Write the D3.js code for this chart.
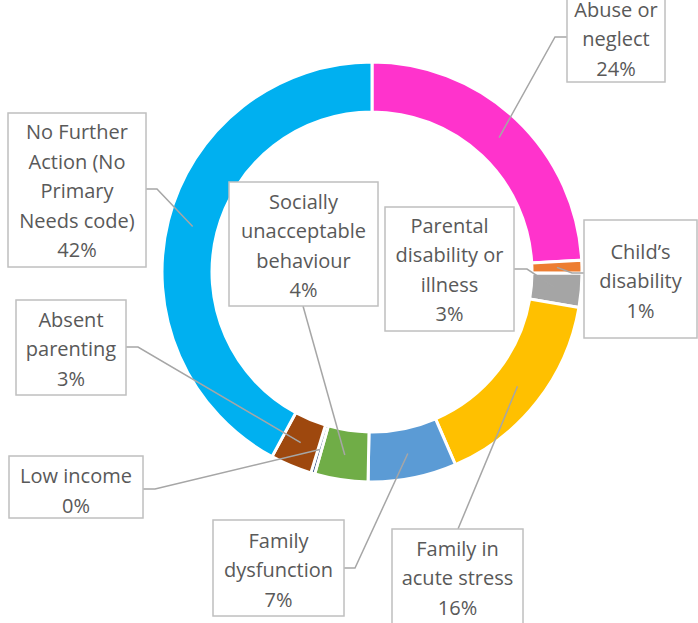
<!DOCTYPE html>
<html>
<head>
<meta charset="utf-8">
<script src="https://cdn.jsdelivr.net/npm/d3@7"></script>
<style>
  html, body { margin: 0; padding: 0; background: #fff; }
  svg { display: block; }
</style>
</head>
<body>
<svg id="chart" width="698" height="623"></svg>
<script>
// Primary need categories, clockwise from 12 o'clock
const categories = [
  "Abuse or neglect",
  "Child\u2019s disability",
  "Parental disability or illness",
  "Family in acute stress",
  "Family dysfunction",
  "Socially unacceptable behaviour",
  "Low income",
  "Absent parenting",
  "No Further Action (No Primary Needs code)"
];
// Share of cases, percent
const shares = [24.1, 1.0, 2.6, 15.8, 6.8, 4.1, 0.3, 3.2, 42.1];
// Wrapped label lines (percentage line is appended from the value)
const labelLines = [
  ["Abuse or", "neglect"],
  ["Child\u2019s", "disability"],
  ["Parental", "disability or", "illness"],
  ["Family in", "acute stress"],
  ["Family", "dysfunction"],
  ["Socially", "unacceptable", "behaviour"],
  ["Low income"],
  ["Absent", "parenting"],
  ["No Further", "Action (No", "Primary", "Needs code)"]
];
const sliceColors = ["#FF33CC", "#ED7D31", "#A5A5A5", "#FFC000", "#5B9BD5",
                     "#70AD47", "#264478", "#9E480E", "#00B0F0"];

// Callout box layout: box rect, text centre, and where the leader leaves the box
const callouts = [
  { x: 567, y: -10, w: 98,  h: 92,  ty: 39,  from: [567, 37],  elbow: [555, 37] },
  { x: 584, y: 220, w: 113, h: 118, ty: 281, from: [584, 273], elbow: [572, 273] },
  { x: 385, y: 207, w: 129, h: 124, ty: 270, from: [514, 269], elbow: [527, 269] },
  { x: 392, y: 529, w: 131, h: 110, ty: 578, from: [458, 529], elbow: null },
  { x: 213, y: 520, w: 131, h: 96,  ty: 570, from: [344, 568], elbow: [355, 568] },
  { x: 229, y: 182, w: 149, h: 124, ty: 246, from: [303, 306], elbow: null },
  { x: 9,   y: 456, w: 134, h: 62,  ty: 491, from: [143, 489], elbow: [155, 489] },
  { x: 16,  y: 300, w: 110, h: 95,  ty: 349, from: [126, 347], elbow: [138, 347] },
  { x: 8,   y: 113, w: 138, h: 154, ty: 191, from: [146, 189], elbow: [157, 189] }
];

const svg = d3.select("#chart");
const cx = 372, cy = 272;
const outerR = 210, innerR = 160;
const lineH = 29.5;
const textColor = "#595959";
const fontFamily = "'Open Sans', 'DejaVu Sans', sans-serif";

// Title (sits above the visible area)
svg.append("text")
  .attr("x", 356).attr("y", -8)
  .attr("text-anchor", "middle")
  .attr("font-family", fontFamily)
  .attr("font-size", 22)
  .attr("font-weight", "bold")
  .attr("fill", textColor)
  .text("Categorising primary needs (proportion)");

const data = categories.map((c, i) => ({ name: c, value: shares[i], idx: i }));

const pie = d3.pie().value(d => d.value).sort(null);
const arc = d3.arc().innerRadius(innerR).outerRadius(outerR);
const arcs = pie(data);

const g = svg.append("g").attr("transform", `translate(${cx},${cy})`);

g.selectAll("path.slice")
  .data(arcs)
  .join("path")
  .attr("class", "slice")
  .attr("d", arc)
  .attr("fill", d => sliceColors[d.data.idx])
  .attr("stroke", "#fff")
  .attr("stroke-width", 3)
  .attr("stroke-linejoin", "miter");

// Leader lines from each callout to the middle of its slice
const leaders = svg.append("g");
arcs.forEach((a, i) => {
  const c = callouts[i];
  const [mx, my] = arc.centroid(a);
  const pts = [c.from];
  if (c.elbow) pts.push(c.elbow);
  pts.push([cx + mx, cy + my]);
  leaders.append("path")
    .attr("d", d3.line()(pts))
    .attr("fill", "none")
    .attr("stroke", "#A6A6A6")
    .attr("stroke-width", 1.5);
});

// Callout boxes with category name and rounded share
const fmt = v => Math.round(v) + "%";
const boxes = svg.append("g");
arcs.forEach((a, i) => {
  const c = callouts[i];
  boxes.append("rect")
    .attr("x", c.x).attr("y", c.y)
    .attr("width", c.w).attr("height", c.h)
    .attr("fill", "#fff")
    .attr("stroke", "#BFBFBF")
    .attr("stroke-width", 1.5);
  const lines = labelLines[i].concat([fmt(a.data.value)]);
  const top = c.ty - (lines.length - 1) * lineH / 2;
  const t = boxes.append("text")
    .attr("font-family", fontFamily)
    .attr("font-size", 20)
    .attr("fill", textColor)
    .attr("text-anchor", "middle");
  lines.forEach((ln, k) => {
    t.append("tspan")
      .attr("x", c.x + c.w / 2)
      .attr("y", top + k * lineH)
      .attr("dy", "0.36em")
      .text(ln);
  });
});
</script>
</body>
</html>
